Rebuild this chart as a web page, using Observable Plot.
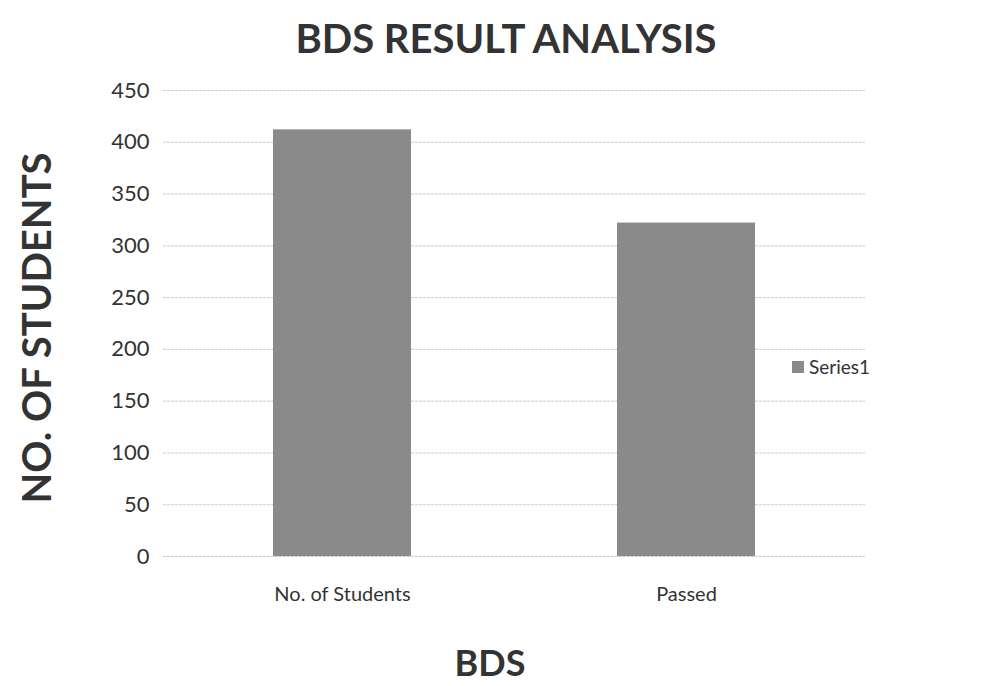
<!DOCTYPE html>
<html><head><meta charset="utf-8">
<script src="https://cdn.jsdelivr.net/npm/d3@7"></script>
<script src="https://cdn.jsdelivr.net/npm/@observablehq/plot@0.6"></script>
<style>
body{margin:0;background:#fff;font-family:Lato,"Open Sans",sans-serif;}
#wrap{position:relative;width:1000px;height:686px;overflow:hidden;}
#title{position:absolute;left:0;width:1012px;top:14px;text-align:center;font-size:40px;font-weight:bold;color:#333;}
#ytitle{position:absolute;left:36px;top:328px;transform:translate(-50%,-50%) rotate(-90deg);white-space:nowrap;font-size:40px;font-weight:bold;color:#333;}
#xtitle{position:absolute;left:0;width:980px;top:640px;text-align:center;font-size:36px;font-weight:bold;color:#333;}
#legend{position:absolute;left:792px;top:355px;font-size:19px;color:#333;display:flex;align-items:center;}
#legend span.sw{display:inline-block;width:12px;height:12px;background:#8a8a8a;margin-right:5px;}
#chart{position:absolute;left:0;top:0;}
</style></head>
<body>
<div id="wrap">
<div id="chart"></div>
<div id="title">BDS RESULT ANALYSIS</div>
<div id="ytitle">NO. OF STUDENTS</div>
<div id="xtitle">BDS</div>
<div id="legend"><span class="sw"></span><span id="legtext"></span></div>
</div>
<script>
const categories = ["No. of Students", "Passed"];
const values = [412, 322];
const seriesName = "Series1";
const yTicks = [0, 50, 100, 150, 200, 250, 300, 350, 400, 450];

const data = categories.map((c, i) => ({category: c, value: values[i]}));
document.getElementById("legtext").textContent = seriesName;

const chart = Plot.plot({
  width: 1000,
  height: 686,
  marginTop: 90,
  marginBottom: 130,
  marginLeft: 163,
  marginRight: 135,
  style: {fontFamily: "Lato, 'Open Sans', sans-serif", color: "#333", background: "transparent"},
  x: {domain: categories, paddingInner: 0.6, paddingOuter: 0.32, label: null},
  y: {domain: [0, 450], label: null},
  marks: [
    Plot.gridY(yTicks, {stroke: "#999", strokeOpacity: 0.5, strokeDasharray: "3,1"}),
    Plot.ruleX([0], {frameAnchor: "left", stroke: "#aaa", strokeDasharray: "2,2"}),
    Plot.barY(data, {x: "category", y: "value", fill: "#8a8a8a"}),
    Plot.axisY(yTicks, {tickSize: 0, tickPadding: 14, fontSize: 22, fill: "#333"}),
    Plot.axisX({tickSize: 0, tickPadding: 30, fontSize: 20, fill: "#333"})
  ]
});
document.getElementById("chart").appendChild(chart);
</script>
</body></html>
